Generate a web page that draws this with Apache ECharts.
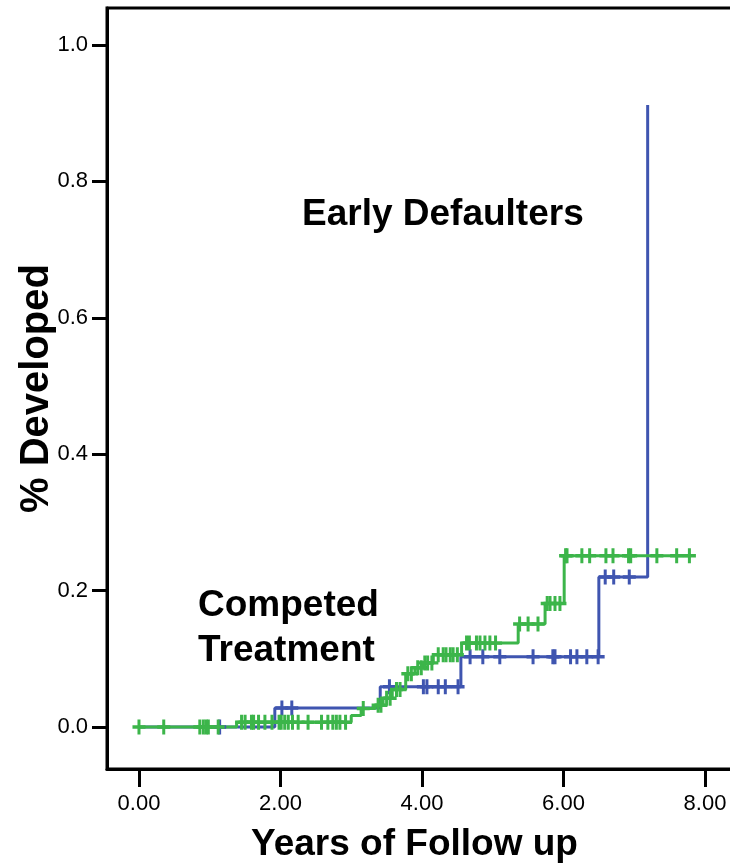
<!DOCTYPE html>
<html>
<head>
<meta charset="utf-8">
<script src="https://cdn.jsdelivr.net/npm/echarts@6/dist/echarts.min.js"></script>
<style>
  html, body { margin: 0; padding: 0; background: #fff; }
  #chart { width: 730px; height: 866px; }
</style>
</head>
<body>
<div id="chart"></div>
<script>
// step curves: time of each event and cumulative level after it
const blueTimes = [0, 1.92, 3.41, 4.55, 6.50, 7.19]
const blueLevels = [0, 0.028, 0.059, 0.103, 0.220, 0.912]
const blueCensor = [1.14, 2.02, 2.16, 3.54, 4.02, 4.07, 4.23, 4.33, 4.51, 4.68, 4.86, 5.10,
  5.57, 5.85, 5.88, 6.10, 6.19, 6.33, 6.49, 6.59, 6.71, 6.93]

const greenTimes = [0, 1.38, 3.00, 3.14, 3.34, 3.45, 3.58, 3.77, 3.90, 4.01, 4.16, 4.56, 5.36, 5.74, 6.01]
const greenLevels = [0, 0.007, 0.017, 0.027, 0.032, 0.042, 0.055, 0.078, 0.087, 0.094, 0.106, 0.123, 0.151, 0.181, 0.251]
const greenEnd = 7.78
const greenCensor = [0.0, 0.35, 0.86, 0.91, 0.95, 0.98, 1.12, 1.45, 1.50, 1.59, 1.62, 1.69, 1.78,
  1.88, 1.98, 2.01, 2.06, 2.11, 2.17, 2.25, 2.39, 2.58, 2.67, 2.74, 2.79, 2.84, 2.92, 3.17,
  3.38, 3.42, 3.50, 3.55, 3.64, 3.69, 3.80, 3.85, 3.94, 3.99, 4.04, 4.08, 4.14, 4.23, 4.30,
  4.34, 4.40, 4.44, 4.50, 4.63, 4.67, 4.77, 4.82, 4.89, 4.96, 5.04, 5.38, 5.50, 5.64, 5.77,
  5.81, 5.88, 5.95, 6.03, 6.05, 6.26, 6.37, 6.60, 6.70, 6.92, 6.95, 7.32, 7.60, 7.78]

const xTicks = [0, 2, 4, 6, 8]
const yTicks = [0, 0.2, 0.4, 0.6, 0.8, 1.0]

const blue = '#3f55b0'
const green = '#3cb54a'

function stepPath(times, levels, end) {
  const pts = [[times[0], levels[0]]]
  for (let i = 1; i < times.length; i++) {
    pts.push([times[i], levels[i - 1]])
    pts.push([times[i], levels[i]])
  }
  if (end != null) pts.push([end, levels[levels.length - 1]])
  return pts
}

function levelAt(times, levels, t) {
  let v = levels[0]
  for (let i = 0; i < times.length; i++) {
    if (times[i] <= t) v = levels[i]
  }
  return v
}

const plus = 'path://M5,0H8V5H13V8H8V13H5V8H0V5H5Z'

const option = {
  backgroundColor: '#fff',
  animation: false,
  grid: {
    left: 107,
    right: -2,
    top: 8,
    bottom: 97,
    containLabel: false,
    outerBoundsMode: 'none',
    show: true,
    borderColor: '#000',
    borderWidth: 3
  },
  xAxis: {
    type: 'value',
    min: -0.452,
    max: 8.382,
    name: 'Years of Follow up',
    nameLocation: 'middle',
    nameGap: 57,
    nameTextStyle: { fontFamily: 'Liberation Sans', fontWeight: 'bold', fontSize: 37, color: '#000', padding: [0, 10, 0, 0] },
    splitLine: { show: false },
    axisLine: { onZero: false, lineStyle: { color: '#000', width: 3 } },
    axisTick: { customValues: xTicks, length: 18, lineStyle: { color: '#000', width: 3 } },
    axisLabel: {
      customValues: xTicks,
      margin: 24,
      fontFamily: 'Liberation Sans',
      fontSize: 22,
      color: '#000',
      formatter: v => v.toFixed(2)
    }
  },
  yAxis: {
    type: 'value',
    min: -0.0616,
    max: 1.0543,
    name: '% Developed',
    nameLocation: 'middle',
    nameRotate: 90,
    nameGap: 50,
    nameMoveOverlap: false,
    nameTextStyle: { fontFamily: 'Liberation Sans', fontWeight: 'bold', fontSize: 40, color: '#000' },
    splitLine: { show: false },
    axisLine: { onZero: false, lineStyle: { color: '#000', width: 3 } },
    axisTick: { customValues: yTicks, length: 15, lineStyle: { color: '#000', width: 3 } },
    axisLabel: {
      customValues: yTicks,
      margin: 19,
      fontFamily: 'Liberation Sans',
      fontSize: 22,
      color: '#000',
      formatter: v => v.toFixed(1)
    }
  },
  graphic: [
    {
      type: 'text', left: 302, top: 196,
      style: { text: 'Early Defaulters', fontFamily: 'Liberation Sans', fontWeight: 'bold', fontSize: 37, fill: '#000' }
    },
    {
      type: 'text', left: 198, top: 583,
      style: { text: 'Competed\nTreatment', lineHeight: 45, fontFamily: 'Liberation Sans', fontWeight: 'bold', fontSize: 37, fill: '#000' }
    }
  ],
  series: [
    {
      name: 'Early Defaulters',
      type: 'line',
      data: stepPath(blueTimes, blueLevels, null),
      showSymbol: false,
      lineStyle: { color: blue, width: 3 },
      z: 2
    },
    {
      name: 'Competed Treatment',
      type: 'line',
      data: stepPath(greenTimes, greenLevels, greenEnd),
      showSymbol: false,
      lineStyle: { color: green, width: 3 },
      z: 3
    },
    {
      name: 'Early Defaulters censored',
      type: 'scatter',
      data: blueCensor.map(t => [t, levelAt(blueTimes, blueLevels, t)]),
      symbol: plus,
      symbolSize: [13, 15],
      itemStyle: { color: blue, opacity: 1 },
      z: 4
    },
    {
      name: 'Competed Treatment censored',
      type: 'scatter',
      data: greenCensor.map(t => [t, levelAt(greenTimes, greenLevels, t)]),
      symbol: plus,
      symbolSize: [13, 15],
      itemStyle: { color: green, opacity: 1 },
      z: 5
    }
  ]
}

const chart = echarts.init(document.getElementById('chart'))
chart.setOption(option)
</script>
</body>
</html>
